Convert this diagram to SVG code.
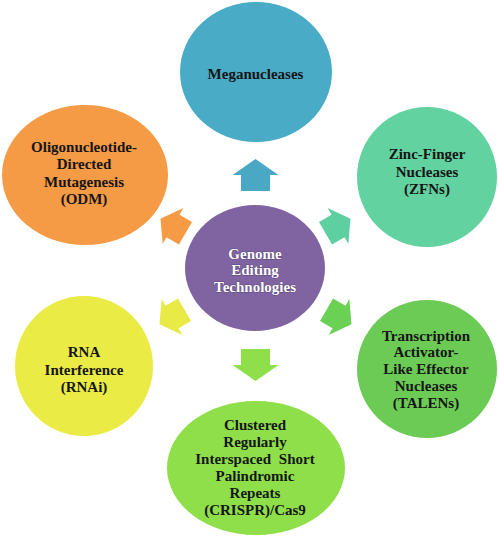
<svg xmlns="http://www.w3.org/2000/svg" width="498" height="538" viewBox="0 0 498 538">
<defs>
<path id="arr" d="M16,0 L0,-23 L0,-14.5 L-16,-14.5 L-16,14.5 L0,14.5 L0,23 Z"/>
</defs>
<style>
text{font-family:"Liberation Serif","Times New Roman",serif;font-weight:bold;font-size:15px;text-anchor:middle;fill:#151515}
.w{fill:#ffffff;stroke:#5e4a78;stroke-width:1px;paint-order:stroke}
</style>
<rect width="498" height="538" fill="#ffffff"/>
<g id="connectors">
<use href="#arr" fill="#4BA8C4" transform="translate(255.5,175) rotate(-90)"/>
<use href="#arr" fill="#8EDF4A" transform="translate(255.5,365) rotate(90)"/>
<use href="#arr" fill="#F59A45" transform="translate(173,226) rotate(210) scale(0.9)"/>
<use href="#arr" fill="#5ECFA0" transform="translate(338,226) rotate(-30) scale(0.9)"/>
<use href="#arr" fill="#E8EA45" transform="translate(172,317) rotate(150) scale(0.9)"/>
<use href="#arr" fill="#6BD155" transform="translate(339,317) rotate(30) scale(0.9)"/>
</g>
<g id="center">
<ellipse cx="255" cy="268" rx="70" ry="63" fill="#8064A2"/>
<text class="w" x="255" y="258.5">Genome</text>
<text class="w" x="255" y="275">Editing</text>
<text class="w" x="255" y="291.5">Technologies</text>
</g>
<g id="meganucleases">
<ellipse cx="256" cy="72" rx="76" ry="70" fill="#4AABC7"/>
<text x="255.5" y="79">Meganucleases</text>
</g>
<g id="odm">
<ellipse cx="85" cy="175" rx="83" ry="70" fill="#F59A45"/>
<text x="84" y="151.7">Oligonucleotide-</text>
<text x="84" y="169.2">Directed</text>
<text x="84" y="186.7">Mutagenesis</text>
<text x="84" y="203.5">(ODM)</text>
</g>
<g id="zfn">
<ellipse cx="427" cy="177" rx="70" ry="70" fill="#62D2A0"/>
<text x="427" y="159.3">Zinc-Finger</text>
<text x="427" y="176.7">Nucleases</text>
<text x="427" y="194">(ZFNs)</text>
</g>
<g id="rnai">
<ellipse cx="84" cy="366" rx="69" ry="70" fill="#EAEC45"/>
<text x="84" y="357.3">RNA</text>
<text x="84" y="374.5">Interference</text>
<text x="84" y="392">(RNAi)</text>
</g>
<g id="talen">
<ellipse cx="427" cy="369" rx="70" ry="69" fill="#6CCB55"/>
<text x="426" y="340.7">Transcription</text>
<text x="426" y="357.3">Activator-</text>
<text x="426" y="374">Like Effector</text>
<text x="426" y="391.3">Nucleases</text>
<text x="426" y="408">(TALENs)</text>
</g>
<g id="crispr">
<ellipse cx="256" cy="468" rx="89" ry="67" fill="#8EDF4A"/>
<text x="255" y="430">Clustered</text>
<text x="255" y="447">Regularly</text>
<text x="255" y="464" word-spacing="4">Interspaced Short</text>
<text x="255" y="481">Palindromic</text>
<text x="255" y="498">Repeats</text>
<text x="255" y="515">(CRISPR)/Cas9</text>
</g>
</svg>
